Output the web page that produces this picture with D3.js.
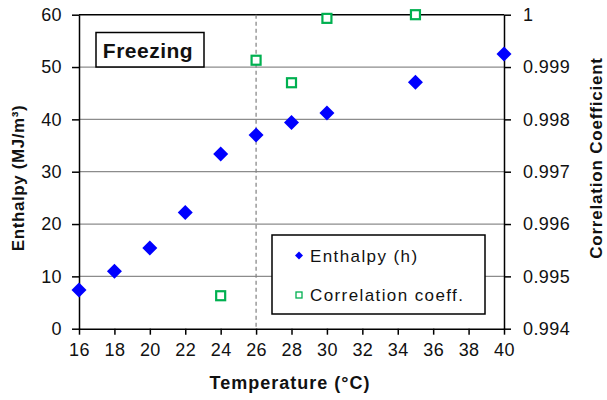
<!DOCTYPE html>
<html>
<head>
<meta charset="utf-8">
<script src="https://cdn.jsdelivr.net/npm/d3@7"></script>
<style>
  html, body { margin: 0; padding: 0; background: #fff; }
  svg { display: block; font-family: Arial, "Liberation Sans", sans-serif; }
</style>
</head>
<body>
<svg id="chart" width="607" height="400"></svg>
<script>
// Enthalpy of freezing and fit correlation coefficient vs. temperature
const enthalpyTemps = [16, 18, 20, 22, 24, 26, 28, 30, 35, 40];
const enthalpyValues = [7.4, 11.0, 15.4, 22.2, 33.4, 37.0, 39.4, 41.2, 47.1, 52.5];

const corrTemps = [24, 26, 28, 30, 35];
const corrValues = [0.99463, 0.99913, 0.9987, 0.99993, 1.0];

const xTicks = [16, 18, 20, 22, 24, 26, 28, 30, 32, 34, 36, 38, 40];
const yLeftTicks = [0, 10, 20, 30, 40, 50, 60];
const yRightTicks = [0.994, 0.995, 0.996, 0.997, 0.998, 0.999, 1];
const markerTemp = 26;

const svg = d3.select("#chart");
const plotLeft = 79, plotRight = 504, plotTop = 14.7, plotBottom = 328.7;

const x = d3.scaleLinear().domain([16, 40]).range([plotLeft, plotRight]);
const yL = d3.scaleLinear().domain([0, 60]).range([plotBottom, plotTop]);
const yR = d3.scaleLinear().domain([0.994, 1]).range([plotBottom, plotTop]);

const tickFont = "18px";

// horizontal gridlines
svg.append("g").selectAll("line")
  .data(yLeftTicks.filter(v => v > 0 && v < 60))
  .join("line")
  .attr("x1", plotLeft).attr("x2", plotRight)
  .attr("y1", d => yL(d)).attr("y2", d => yL(d))
  .attr("stroke", "#8c8c8c").attr("stroke-width", 1.2);

// top border
svg.append("line")
  .attr("x1", plotLeft).attr("x2", plotRight)
  .attr("y1", plotTop).attr("y2", plotTop)
  .attr("stroke", "#000").attr("stroke-width", 1.5);

// dashed reference line
svg.append("line")
  .attr("x1", x(markerTemp)).attr("x2", x(markerTemp))
  .attr("y1", plotTop).attr("y2", plotBottom)
  .attr("stroke", "#808080").attr("stroke-width", 1.2)
  .attr("stroke-dasharray", "4,3");

// axes
function styleAxis(g) {
  g.selectAll(".domain").attr("stroke", "#000").attr("stroke-width", 1.5);
  g.selectAll(".tick line").attr("stroke", "#000").attr("stroke-width", 1.5);
  g.selectAll(".tick text").attr("fill", "#111").style("font-size", tickFont)
    .style("letter-spacing", "0.4px")
    .style("font-family", "Arial, 'Liberation Sans', sans-serif");
}

svg.append("g")
  .attr("transform", `translate(0,${plotBottom})`)
  .call(d3.axisBottom(x).tickValues(xTicks).tickSize(6).tickSizeOuter(0).tickPadding(9).tickFormat(d3.format("d")))
  .call(styleAxis);

svg.append("g")
  .attr("transform", `translate(${plotLeft},0)`)
  .call(d3.axisLeft(yL).tickValues(yLeftTicks).tickSize(7).tickSizeOuter(0).tickPadding(10).tickFormat(d3.format("d")))
  .call(styleAxis);

svg.append("g")
  .attr("transform", `translate(${plotRight},0)`)
  .call(d3.axisRight(yR).tickValues(yRightTicks).tickSize(7).tickSizeOuter(0).tickPadding(12)
    .tickFormat(d => d === 1 ? "1" : d3.format(".3f")(d)))
  .call(styleAxis);

// legend box (drawn before marks so the points stay on top)
const leg = svg.append("g").attr("transform", "translate(272,235)");
leg.append("rect").attr("width", 213).attr("height", 79)
  .attr("fill", "#fff").attr("stroke", "#000").attr("stroke-width", 1.5);

const diamond = r => `M0,${-r}L${r},0L0,${r}L${-r},0Z`;

// enthalpy points
svg.append("g").selectAll("path")
  .data(enthalpyTemps.map((t, i) => [t, enthalpyValues[i]]))
  .join("path")
  .attr("d", diamond(7.5))
  .attr("transform", d => `translate(${x(d[0])},${yL(d[1])})`)
  .attr("fill", "#0000ff");

// correlation points
svg.append("g").selectAll("rect")
  .data(corrTemps.map((t, i) => [t, corrValues[i]]))
  .join("rect")
  .attr("x", d => x(d[0]) - 4.5).attr("y", d => yR(d[1]) - 4.5)
  .attr("width", 9).attr("height", 9)
  .attr("fill", "#fff").attr("stroke", "#00b050").attr("stroke-width", 2.2);

// legend entries
leg.append("path").attr("d", diamond(4)).attr("transform", "translate(27,20.5)").attr("fill", "#0000ff");
leg.append("text").attr("x", 38).attr("y", 26.5).text("Enthalpy (h)")
  .attr("fill", "#111").style("font-size", "17px").style("letter-spacing", "1.4px");
leg.append("rect").attr("x", 24).attr("y", 57).attr("width", 6).attr("height", 6)
  .attr("fill", "#fff").attr("stroke", "#00b050").attr("stroke-width", 1.3);
leg.append("text").attr("x", 38).attr("y", 66).text("Correlation coeff.")
  .attr("fill", "#111").style("font-size", "17px").style("letter-spacing", "1.4px");

// "Freezing" label
const fz = svg.append("g").attr("transform", "translate(96,32.5)");
fz.append("rect").attr("width", 108).attr("height", 34.5)
  .attr("fill", "#fff").attr("stroke", "#000").attr("stroke-width", 1.5);
fz.append("text").attr("x", 52).attr("y", 25).attr("text-anchor", "middle")
  .text("Freezing").attr("fill", "#111").style("font-size", "21px").style("font-weight", "bold")
  .style("letter-spacing", "0.5px");

// axis titles
svg.append("text").attr("x", 290).attr("y", 389).attr("text-anchor", "middle")
  .text("Temperature (°C)").attr("fill", "#111")
  .style("font-size", "18px").style("font-weight", "bold").style("letter-spacing", "1px");

svg.append("text").attr("transform", "translate(24,178) rotate(-90)").attr("text-anchor", "middle")
  .text("Enthalpy (MJ/m³)").attr("fill", "#111")
  .style("font-size", "17px").style("font-weight", "bold").style("letter-spacing", "0.6px");

svg.append("text").attr("transform", "translate(602,158) rotate(-90)").attr("text-anchor", "middle")
  .text("Correlation Coefficient").attr("fill", "#111")
  .style("font-size", "17px").style("font-weight", "bold").style("letter-spacing", "0.8px");
</script>
</body>
</html>
